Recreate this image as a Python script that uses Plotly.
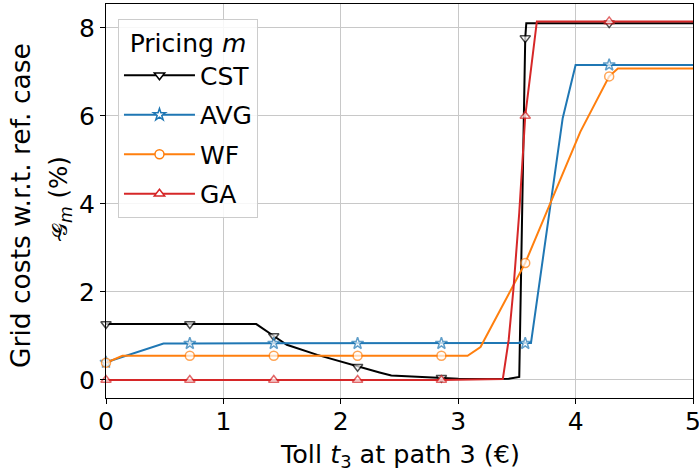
import plotly.graph_objects as go

# ---- data ----
cst_x = [0, 0.714, 1.28, 1.429, 1.54, 1.8, 2.143, 2.33, 2.43, 2.857, 3.0, 3.3, 3.43, 3.52, 3.571, 3.58, 4.286, 5.0]
cst_y = [1.27, 1.27, 1.27, 1.0, 0.80, 0.57, 0.30, 0.17, 0.10, 0.05, 0.03, 0.02, 0.03, 0.07, 7.77, 8.11, 8.11, 8.11]

avg_x = [0, 0.49, 0.714, 1.429, 2.143, 2.857, 3.571, 3.62, 3.89, 4.0, 4.286, 5.0]
avg_y = [0.40, 0.83, 0.83, 0.83, 0.83, 0.83, 0.83, 0.84, 5.95, 7.16, 7.16, 7.16]

wf_x = [0, 0.14, 0.714, 1.429, 2.143, 2.857, 3.08, 3.19, 3.571, 4.04, 4.286, 4.36, 5.0]
wf_y = [0.39, 0.55, 0.55, 0.55, 0.55, 0.55, 0.55, 0.75, 2.66, 5.64, 6.90, 7.08, 7.08]

ga_x = [0, 0.714, 1.429, 2.143, 2.857, 3.38, 3.43, 3.47, 3.5, 3.52, 3.571, 3.67, 4.286, 5.0]
ga_y = [0, 0, 0, 0, 0, 0.02, 0.91, 2.05, 3.18, 3.8, 6.0, 8.15, 8.15, 8.15]

marker_x = [0, 0.714, 1.429, 2.143, 2.857, 3.571, 4.286]

series_names = ["CST", "AVG", "WF", "GA"]
x_ticks = [0, 1, 2, 3, 4, 5]
y_ticks = [0, 2, 4, 6, 8]

x_title = "Toll <i>t</i><sub>3</sub> at path 3 (€)"
y_title_1 = "Grid costs w.r.t. ref. case"
y_title_2 = '<span style="font-size:21px">𝒢</span><sub><i>m</i></sub> (%)'
y_title_tilde = "~"
legend_title = "Pricing <i>m</i>"

# ---- style ----
colors = ["#000000", "#1f77b4", "#ff7f0e", "#d62728"]
symbols = ["triangle-down", "star", "circle", "triangle-up"]
FONT = "DejaVu Sans"
MS = 9

fig = go.Figure()
data = [(cst_x, cst_y), (avg_x, avg_y), (wf_x, wf_y), (ga_x, ga_y)]
for name, (xs, ys), col, sym in zip(series_names, data, colors, symbols):
    sizes = [MS if any(abs(x - m) < 1e-6 for m in marker_x) else 0 for x in xs]
    fig.add_trace(go.Scatter(
        x=xs, y=ys, mode="lines+markers", showlegend=False,
        line=dict(color=col, width=2),
        marker=dict(symbol=sym, size=sizes, color="white",
                    line=dict(color=col, width=1.5)),
        cliponaxis=False,
    ))
for name, col, sym in zip(series_names, colors, symbols):
    fig.add_trace(go.Scatter(
        x=[None], y=[None], mode="lines+markers", name=name,
        legendgroup=name,
        line=dict(color=col, width=2),
        marker=dict(symbol=sym, size=MS, color="white",
                    line=dict(color=col, width=1.5)),
    ))

axis_common = dict(
    showline=True, linecolor="black", linewidth=1, mirror=True,
    ticks="outside", ticklen=5, tickcolor="black", tickwidth=1,
    showgrid=True, gridcolor="#c8c8c8", gridwidth=1, zeroline=False,
    tickfont=dict(family=FONT, size=25, color="black"),
    automargin=False, ticklabeloverflow="allow",
)

TF = dict(family=FONT, size=25.5, color="black")
annotations = [
    dict(text=x_title, xref="paper", yref="paper", x=0.5, y=0, yshift=-57,
         xanchor="center", yanchor="middle", showarrow=False, font=TF),
    dict(text=y_title_1, xref="paper", yref="paper", x=0, y=0.5, xshift=-86, yshift=-5,
         xanchor="center", yanchor="middle", textangle=-90, showarrow=False,
         font=dict(family=FONT, size=26.5, color="black")),
    dict(text=y_title_2, xref="paper", yref="paper", x=0, y=0.5, xshift=-46, yshift=4,
         xanchor="center", yanchor="middle", textangle=-90, showarrow=False,
         font=dict(family=FONT, size=24.5, color="black")),
    dict(text=y_title_tilde, xref="paper", yref="paper", x=0, y=0.5, xshift=-47, yshift=-34,
         xanchor="center", yanchor="middle", textangle=-90, showarrow=False,
         font=dict(family=FONT, size=20, color="black")),
]

fig.update_layout(
    width=699, height=470,
    margin=dict(l=106, r=6, t=4, b=72),
    plot_bgcolor="white", paper_bgcolor="white",
    font=dict(family=FONT, color="black"),
    xaxis=dict(range=[0, 5], tickvals=x_ticks, ticklabelstandoff=-4, **axis_common),
    yaxis=dict(range=[-0.41, 8.545], tickvals=y_ticks, **axis_common),
    annotations=annotations,
    legend=dict(
        x=0.0204, y=0.962, xanchor="left", yanchor="top",
        bgcolor="rgba(255,255,255,0.85)", bordercolor="#cccccc", borderwidth=1,
        font=dict(family=FONT, size=25, color="black"),
        title=dict(text=legend_title, side="top center",
                   font=dict(family=FONT, size=25)),
        traceorder="grouped", tracegroupgap=4, itemwidth=71,
    ),
)

fig.write_html("out.html", config={"displayModeBar": False},
               post_script="document.body.style.margin='0px';")
